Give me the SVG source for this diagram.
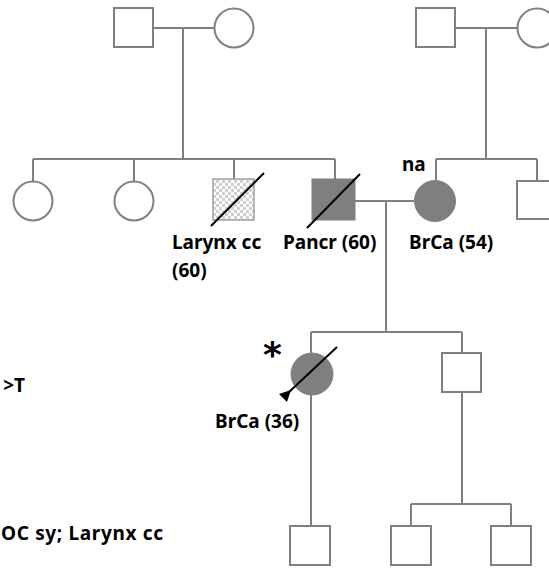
<svg xmlns="http://www.w3.org/2000/svg" width="549" height="570" viewBox="0 0 549 570">
<style>
.ln{stroke:#808080;stroke-width:2;fill:none}
.sym{stroke:#808080;stroke-width:2;fill:#ffffff}
.aff{stroke:#808080;stroke-width:1;fill:#7f7f7f}
.dec{stroke:#000;stroke-width:2}
.t{font-family:"Noto Sans","Liberation Sans",Arial,sans-serif;font-weight:bold;font-size:19px;fill:#000}
</style>
<defs>
<pattern id="chk" width="6" height="6" patternUnits="userSpaceOnUse">
<rect width="6" height="6" fill="#fff"/>
<rect width="3" height="3" fill="#d0d0d0"/>
<rect x="3" y="3" width="3" height="3" fill="#d0d0d0"/>
</pattern>
</defs>
<g id="connectors">
<path class="ln" d="M153 28H215M183 28V159M33 159H335M33 159V182M134 159V182M234 159V179M335 159V179"/>
<path class="ln" d="M455 28H517M486 28V159M436 159H537M436 159V181M537 159V180"/>
<path class="ln" d="M355 201H414M386 201V332M311 332H462M311 332V353M462 332V353"/>
<path class="ln" d="M311 395V526M462 392V504M411 504H511M411 504V526M511 504V526"/>
</g>
<g id="gf1"><rect class="sym" x="114" y="8" width="39" height="39"/></g>
<g id="gm1"><circle class="sym" cx="234" cy="28" r="19.5"/></g>
<g id="gf2"><rect class="sym" x="416" y="8" width="39" height="39"/></g>
<g id="gm2"><circle class="sym" cx="537" cy="28" r="19.5"/></g>
<g id="aunt1"><circle class="sym" cx="33" cy="201" r="19.5"/></g>
<g id="aunt2"><circle class="sym" cx="134" cy="201" r="19.5"/></g>
<g id="uncle1">
<rect x="213" y="179" width="41" height="41" fill="url(#chk)" stroke="#a0a0a0" stroke-width="1.5"/>
<line class="dec" x1="211" y1="226" x2="264" y2="173"/>
<text class="t" x="172" y="249">Larynx cc</text>
<text class="t" x="172" y="277">(60)</text>
</g>
<g id="father">
<rect class="aff" x="312" y="179" width="43" height="41"/>
<line class="dec" x1="307" y1="228" x2="360" y2="174"/>
<text class="t" x="283" y="249">Pancr (60)</text>
</g>
<g id="mother">
<circle class="aff" cx="435" cy="201" r="20.5"/>
<text class="t" x="402" y="171">na</text>
<text class="t" x="409" y="249">BrCa (54)</text>
</g>
<g id="muncle"><rect class="sym" x="517" y="181" width="40" height="38"/></g>
<g id="proband">
<circle class="aff" cx="312" cy="374" r="21"/>
<line class="dec" x1="337" y1="347" x2="288" y2="393"/>
<polygon points="291,390 279,394 287,402" fill="#000"/>
<text x="263" y="367" font-family="DejaVu Sans,sans-serif" font-weight="bold" font-size="36" fill="#000">*</text>
<text class="t" x="215" y="428">BrCa (36)</text>
</g>
<g id="brother"><rect class="sym" x="442" y="353" width="39" height="39"/></g>
<g id="child1"><rect class="sym" x="290" y="526" width="40" height="39"/></g>
<g id="child2"><rect class="sym" x="391" y="526" width="40" height="39"/></g>
<g id="child3"><rect class="sym" x="491" y="526" width="40" height="39"/></g>
<g id="notes">
<text class="t" x="25" y="392" text-anchor="end">&gt;T</text>
<text class="t" x="1" y="540" textLength="162" lengthAdjust="spacing">OC sy; Larynx cc</text>
</g>
</svg>
